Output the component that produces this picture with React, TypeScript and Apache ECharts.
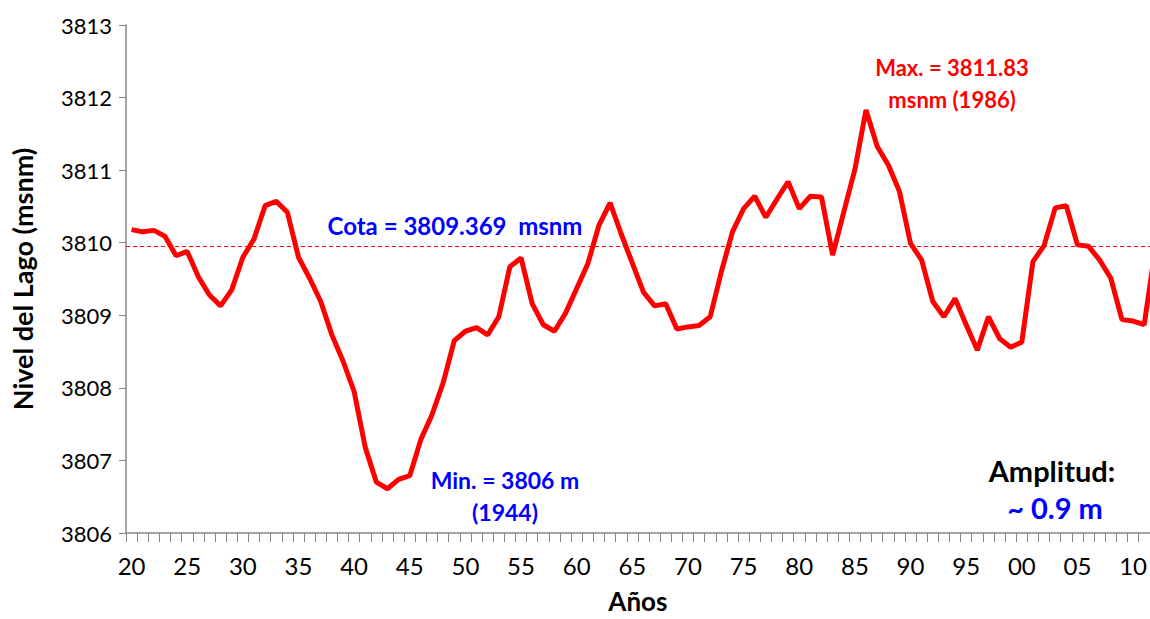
import React, { useEffect, useRef } from "react";
import * as echarts from "echarts";

// Años (categorías) y nivel del lago (msnm)
const YEARS: number[] = [];
for (let y = 1920; y <= 2012; y++) YEARS.push(y);
const LAST_VISIBLE_YEAR = 2011;

const LEVELS: number[] = [
  // 1920-1929
  3810.18, 3810.15, 3810.17, 3810.09, 3809.82, 3809.88, 3809.53, 3809.28, 3809.13, 3809.35,
  // 1930-1939
  3809.8, 3810.05, 3810.51, 3810.57, 3810.42, 3809.8, 3809.51, 3809.19, 3808.73, 3808.37,
  // 1940-1949
  3807.95, 3807.18, 3806.7, 3806.61, 3806.74, 3806.79, 3807.29, 3807.63, 3808.07, 3808.65,
  // 1950-1959
  3808.78, 3808.83, 3808.73, 3808.98, 3809.67, 3809.79, 3809.16, 3808.87, 3808.78, 3809.03,
  // 1960-1969
  3809.37, 3809.71, 3810.24, 3810.55, 3810.12, 3809.72, 3809.32, 3809.13, 3809.16, 3808.81,
  // 1970-1979
  3808.84, 3808.86, 3808.98, 3809.6, 3810.15, 3810.47, 3810.64, 3810.35, 3810.6, 3810.84,
  // 1980-1989
  3810.47, 3810.64, 3810.63, 3809.83, 3810.42, 3811.01, 3811.83, 3811.33, 3811.07, 3810.71,
  // 1990-1999
  3809.99, 3809.76, 3809.19, 3808.98, 3809.23, 3808.87, 3808.52, 3808.98, 3808.68, 3808.56,
  // 2000-2009
  3808.63, 3809.74, 3809.96, 3810.48, 3810.51, 3809.97, 3809.95, 3809.76, 3809.51, 3808.94,
  // 2010-2012
  3808.92, 3808.87, 3809.92,
];

const COTA_LEVEL = 3809.95;
const Y_MIN = 3806;
const Y_MAX = 3813;
const Y_INTERVAL = 1;

const FONT = "Lato, 'Open Sans', 'Noto Sans', sans-serif";
const BLUE = "#0000FF";
const RED = "#FF0000";
const AXIS_GRAY = "#868686";

export default function App() {
  const ref = useRef<HTMLDivElement>(null);

  useEffect(() => {
    document.body.style.margin = "0";
    if (!ref.current) return;
    const chart = echarts.init(ref.current, undefined, { renderer: "svg" });
    chart.setOption({
      animation: false,
      backgroundColor: "#ffffff",
      grid: { left: 126, top: 25, right: 0, bottom: 83, containLabel: false },
      xAxis: {
        type: "category",
        data: YEARS.map(String),
        boundaryGap: true,
        min: 0,
        max: YEARS.indexOf(LAST_VISIBLE_YEAR),
        name: "Años",
        nameLocation: "middle",
        nameGap: 55,
        nameTextStyle: { fontFamily: FONT, fontWeight: "bold", fontSize: 26, color: "#000" },
        axisLine: { lineStyle: { color: AXIS_GRAY, width: 1.5 } },
        axisTick: { show: true, interval: 0, length: 9, lineStyle: { color: AXIS_GRAY } },
        axisLabel: {
          interval: 4,
          margin: 20,
          fontFamily: FONT,
          fontSize: 24,
          color: "#000",
          formatter: (v: string) => v.slice(2),
        },
        splitLine: { show: false },
      },
      yAxis: {
        type: "value",
        min: Y_MIN,
        max: Y_MAX,
        interval: Y_INTERVAL,
        name: "Nivel del Lago (msnm)",
        nameLocation: "middle",
        nameGap: 90,
        nameTextStyle: { fontFamily: FONT, fontWeight: "bold", fontSize: 27, color: "#000" },
        axisLine: { show: true, lineStyle: { color: AXIS_GRAY, width: 1.5 } },
        axisTick: { show: true, length: 7, lineStyle: { color: AXIS_GRAY } },
        axisLabel: {
          margin: 14,
          fontFamily: FONT,
          fontSize: 22,
          color: "#000",
          formatter: (v: number) => String(v),
        },
        splitLine: { show: false },
      },
      series: [
        {
          type: "line",
          data: LEVELS,
          symbol: "none",
          clip: true,
          lineStyle: { color: RED, width: 5 },
          itemStyle: { color: RED },
          markLine: {
            silent: true,
            symbol: ["none", "none"],
            label: { show: false },
            itemStyle: { color: RED },
            lineStyle: { color: RED, width: 1, type: [4, 3], opacity: 1 },
            data: [{ yAxis: COTA_LEVEL, lineStyle: { color: RED } }],
          },
        },
      ],
      graphic: [
        {
          type: "text",
          x: 455,
          y: 225,
          style: {
            text: "Cota = 3809.369  msnm",
            fontFamily: FONT,
            fontWeight: "bold",
            fontSize: 24,
            fill: BLUE,
            align: "center",
            verticalAlign: "middle",
          },
        },
        {
          type: "text",
          x: 505,
          y: 496,
          style: {
            text: "Min. = 3806 m\n(1944)",
            fontFamily: FONT,
            fontWeight: "bold",
            fontSize: 23,
            lineHeight: 32,
            fill: BLUE,
            align: "center",
            verticalAlign: "middle",
          },
        },
        {
          type: "text",
          x: 952,
          y: 83,
          style: {
            text: "Max. = 3811.83\nmsnm (1986)",
            fontFamily: FONT,
            fontWeight: "bold",
            fontSize: 22,
            lineHeight: 32,
            fill: RED,
            align: "center",
            verticalAlign: "middle",
          },
        },
        {
          type: "text",
          x: 1052,
          y: 470,
          style: {
            text: "Amplitud:",
            fontFamily: FONT,
            fontWeight: "bold",
            fontSize: 29,
            fill: "#000",
            align: "center",
            verticalAlign: "middle",
          },
        },
        {
          type: "text",
          x: 1055,
          y: 507,
          style: {
            text: "~ 0.9 m",
            fontFamily: FONT,
            fontWeight: "bold",
            fontSize: 29,
            fill: BLUE,
            align: "center",
            verticalAlign: "middle",
          },
        },
      ],
    });
    return () => chart.dispose();
  }, []);

  return (
    <div
      ref={ref}
      style={{ position: "fixed", left: 0, top: 0, width: 1150, height: 619, background: "#fff" }}
    />
  );
}
